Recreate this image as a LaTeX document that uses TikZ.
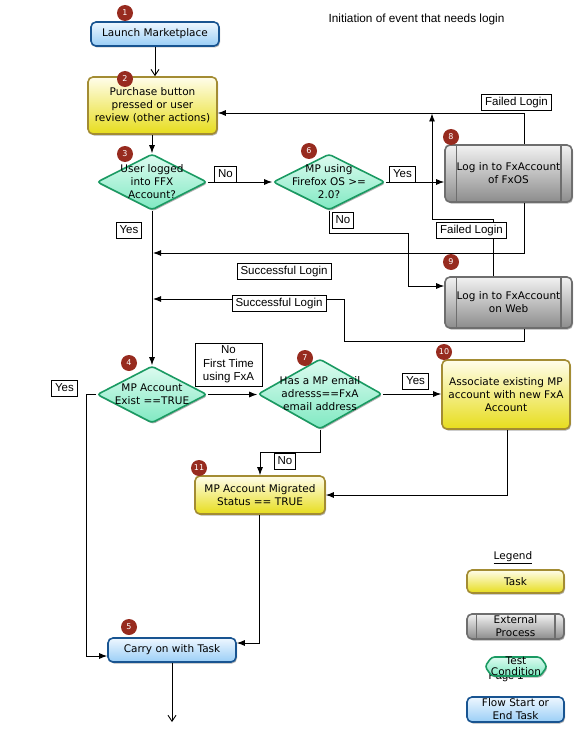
\documentclass[tikz,border=0pt]{standalone}
\usepackage{fontspec}
\setmainfont{DejaVu Sans}
\newfontfamily\labelfont{Liberation Sans}
\usetikzlibrary{arrows.meta,shapes.geometric,shapes.symbols,shadows}

\definecolor{startBorder}{HTML}{185491}
\definecolor{startTop}{HTML}{EEF7FF}
\definecolor{startBottom}{HTML}{9ACEF6}
\definecolor{taskBorder}{HTML}{A38C33}
\definecolor{taskTop}{HTML}{FFFDEB}
\definecolor{taskBottom}{HTML}{E7DD1C}
\definecolor{extBorder}{HTML}{6E6E6E}
\definecolor{extTop}{HTML}{F2F2F2}
\definecolor{extBottom}{HTML}{8C8C8C}
\definecolor{testBorder}{HTML}{1A9A62}
\definecolor{testTop}{HTML}{DDFBF0}
\definecolor{testBottom}{HTML}{80E9C2}
\definecolor{badgeRed}{HTML}{972B1F}

\begin{document}
\begin{tikzpicture}[
  x=1pt, y=-1pt,
  >={Latex[length=8pt,width=6pt]},
  every node/.style={font=\fontsize{10.5}{13}\selectfont, align=center, inner sep=0pt},
  shadowed/.style={drop shadow={shadow xshift=1pt, shadow yshift=-1.5pt, opacity=0.3, fill=black}},
  startstop/.style={shadowed, draw=startBorder, line width=1.6pt, rounded corners=5pt,
    top color=startTop, bottom color=startBottom},
  task/.style={shadowed, draw=taskBorder, line width=1.6pt, rounded corners=5pt,
    top color=taskTop, bottom color=taskBottom},
  extproc/.style={shadowed, draw=extBorder, line width=1.6pt, rounded corners=5pt,
    top color=extTop, bottom color=extBottom},
  extbar/.style={draw=extBorder, line width=1.4pt},
  decision/.style={shadowed, shape=diamond, draw=testBorder, line width=1.6pt, rounded corners=3pt,
    top color=testTop, bottom color=testBottom},
  testcond/.style={shadowed, shape=signal, signal to=west and east, signal pointer angle=110,
    draw=testBorder, line width=1.6pt, rounded corners=3pt, top color=testTop, bottom color=testBottom},
  dtext/.style={font=\fontsize{10.5}{13}\selectfont, align=center},
  badge/.style={circle, fill=badgeRed, text=white, minimum size=16pt, font=\fontsize{8}{9}\selectfont},
  condbox/.style={draw, fill=white, line width=0.8pt, font=\labelfont\fontsize{11.5}{13.5}\selectfont,
    inner xsep=3.5pt, inner ysep=2.5pt},
  cond/.style={condbox, text height=8.5pt, text depth=2.5pt},
  flow/.style={draw, line width=0.9pt, ->},
  openflow/.style={draw, line width=0.9pt, -{Straight Barb[length=6pt,width=8pt]}},
  ]
  \path[use as bounding box, fill=white] (0,0) rectangle (576,733);
  \node[font=\labelfont\fontsize{11.8}{14}\selectfont] (flowTitle) at (416.5,19) {Initiation of event that needs login};

  % flow steps
  \node[startstop, minimum width=128pt, minimum height=24pt] (flowLaunch) at (155,34) {Launch Marketplace};
  \node[task, minimum width=129pt, minimum height=57pt] (flowPurchase) at (152.5,105.5)
    {Purchase button\\pressed or user\\review (other actions)};
  \node[decision, minimum width=110pt, minimum height=56pt,
    label={[dtext]center:{User logged\\into FFX\\Account?}}] (flowLogged) at (152,182) {};
  \node[decision, minimum width=112pt, minimum height=56pt,
    label={[dtext]center:{MP using\\Firefox OS >=\\2.0?}}] (flowOS) at (329,182) {};
  \node[extproc, minimum width=127pt, minimum height=57pt] (flowFxosLogin) at (508.5,173.5)
    {Log in to FxAccount\\of FxOS};
  \node[extproc, minimum width=127pt, minimum height=51pt] (flowWebLogin) at (508.5,302.5)
    {Log in to FxAccount\\on Web};
  \node[decision, minimum width=110pt, minimum height=57pt,
    label={[dtext]center:{MP Account\\Exist ==TRUE}}] (flowExist) at (152,394.5) {};
  \node[decision, minimum width=124pt, minimum height=70pt,
    label={[dtext]center:{Has a MP email\\adresss==FxA\\email address}}] (flowEmail) at (320,394) {};
  \node[task, minimum width=128pt, minimum height=69pt] (flowAssociate) at (506,394.5)
    {Associate existing MP\\account with new FxA\\Account};
  \node[task, minimum width=130pt, minimum height=38pt] (flowMigrated) at (260,495)
    {MP Account Migrated\\Status == TRUE};
  \node[startstop, minimum width=128pt, minimum height=24pt] (flowCarry) at (172,650) {Carry on with Task};
  \coordinate (flowEnd) at (172,722);

  % legend
  \node (legendTitle) at (513,558) {\underline{Legend}};
  \node[task, minimum width=97pt, minimum height=23pt] (legendTask) at (515.5,581.5) {Task};
  \node[extproc, minimum width=97pt, minimum height=25pt] (legendExt) at (515.5,626.5) {External\\Process};
  \node[font=\labelfont\fontsize{11}{12}\selectfont] (legendPage) at (506,677) {Page 1};
  \node[testcond, minimum width=62pt, minimum height=19pt,
    label={[dtext, font=\fontsize{10.5}{11}\selectfont]center:{Test\\Condition}}] (legendTest) at (516,666.5) {};
  \node[startstop, minimum width=97pt, minimum height=25pt] (legendFlow) at (515.5,709.5) {Flow Start or\\End Task};

  \foreach \ext/\gap in {flowFxosLogin/12, flowWebLogin/12, legendExt/10} {
    \draw[extbar] ([xshift=\gap pt, yshift=-0.8pt]\ext.north west) -- ([xshift=\gap pt, yshift=0.8pt]\ext.south west);
    \draw[extbar] ([xshift=-\gap pt, yshift=-0.8pt]\ext.north east) -- ([xshift=-\gap pt, yshift=0.8pt]\ext.south east);
  }

  % connectors
  \coordinate (joinOS) at (153,253);
  \coordinate (joinWeb) at (153,299);
  \coordinate (joinFail) at (432,113.5);
  \path[openflow] (flowLaunch.south) -- (flowLaunch.south |- flowPurchase.north);
  \path[flow] (flowLogged.north |- flowPurchase.south) -- (flowLogged.north);
  \path[flow] (flowLogged.east) -- (flowOS.west);
  \path[flow] (flowOS.east) -- (flowOS.east -| flowFxosLogin.west);
  \path[flow] ([xshift=15.5pt]flowFxosLogin.north) |- ([yshift=-7.5pt]flowPurchase.east);
  \path[flow] ([xshift=15.5pt]flowFxosLogin.south) |- (joinOS);
  \path[flow] (flowOS.south) |- (408,233.5) |- ([yshift=16.5pt]flowWebLogin.west);
  \path[flow] ([xshift=-15.5pt]flowWebLogin.north) |- (432,219) -- (joinFail);
  \path[flow] ([xshift=15.5pt]flowWebLogin.south) |- (344,341) |- (joinWeb);
  \path[flow] (flowLogged.south) -- (flowExist.north);
  \path[flow] (flowExist.west) -- (86,394.5) |- ([yshift=-6pt]flowCarry.west);
  \path[flow] (flowExist.east) -- (flowExist.east -| flowEmail.west);
  \path[flow] (flowEmail.east) -- (flowEmail.east -| flowAssociate.west);
  \path[flow] (flowEmail.south) -- ++(0,23) -| (flowMigrated.north);
  \path[flow] ([xshift=1pt]flowAssociate.south) |- (flowMigrated.east);
  \path[flow] ([xshift=-1pt]flowMigrated.south) |- ([yshift=7pt]flowCarry.east);
  \path[openflow] (flowCarry.south) -- (flowEnd);

  % connector labels
  \node[cond] (condNoLogin) at (225.5,174.5) {No};
  \node[cond] (condYesOS) at (402.5,174.5) {Yes};
  \node[cond] (condFailOS) at (516.5,102.5) {Failed Login};
  \node[cond] (condNoOS) at (343,220) {No};
  \node[cond] (condFailWeb) at (471.5,230.5) {Failed Login};
  \node[cond] (condOkOS) at (284,271.5) {Successful Login};
  \node[cond] (condOkWeb) at (279,303) {Successful Login};
  \node[cond] (condYesLogged) at (129,230.5) {Yes};
  \node[cond] (condYesExist) at (64.5,388) {Yes};
  \node[condbox, minimum width=67pt, minimum height=43pt] (condFirstTime) at (228.5,364.5) {No\\First Time\\using FxA};
  \node[cond] (condYesEmail) at (415.5,381.5) {Yes};
  \node[cond] (condNoEmail) at (285,461.5) {No};

  % step numbers
  \foreach \num/\bx/\by in {1/125/13, 2/125/79, 3/125/154, 4/129/363, 5/129/627, 6/309/151,
    7/305/358, 8/451/137, 9/451/262, 10/444/352, 11/199/468}
    \node[badge] (badge\num) at (\bx,\by) {\num};
\end{tikzpicture}
\end{document}
